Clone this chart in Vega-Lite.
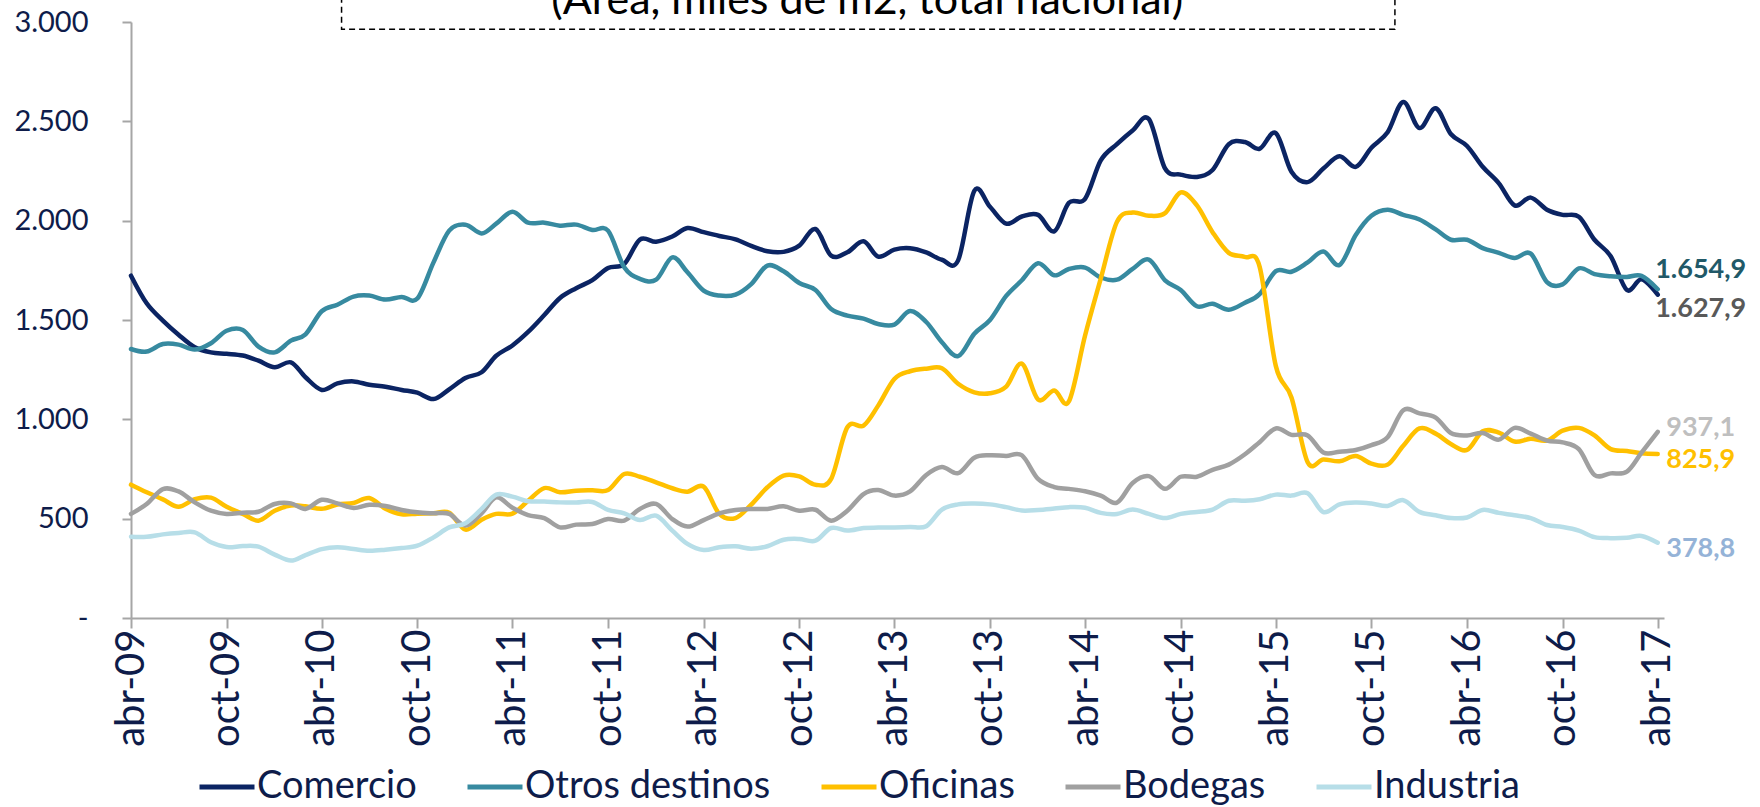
{
  "$schema": "https://vega.github.io/schema/vega-lite/v6.json",
  "autosize": {"type": "none"},
  "width": 1533,
  "height": 596,
  "padding": {"left": 131, "top": 22, "right": 96, "bottom": 189},
  "background": "white",
  "config": {"view": {"stroke": null}, "font": "Lato"},
  "datasets": {
    "serie": [
      {"fecha":"2009-04-01","Comercio":1723,"Otros destinos":1354,"Oficinas":671,"Bodegas":524,"Industria":409},
      {"fecha":"2009-05-01","Comercio":1584,"Otros destinos":1341,"Oficinas":633,"Bodegas":574,"Industria":409},
      {"fecha":"2009-06-01","Comercio":1497,"Otros destinos":1379,"Oficinas":597,"Bodegas":649,"Industria":421},
      {"fecha":"2009-07-01","Comercio":1426,"Otros destinos":1376,"Oficinas":560,"Bodegas":637,"Industria":428},
      {"fecha":"2009-08-01","Comercio":1363,"Otros destinos":1351,"Oficinas":598,"Bodegas":582,"Industria":431},
      {"fecha":"2009-09-01","Comercio":1337,"Otros destinos":1383,"Oficinas":606,"Bodegas":540,"Industria":381},
      {"fecha":"2009-10-01","Comercio":1330,"Otros destinos":1446,"Oficinas":560,"Bodegas":524,"Industria":357},
      {"fecha":"2009-11-01","Comercio":1321,"Otros destinos":1450,"Oficinas":524,"Bodegas":530,"Industria":362},
      {"fecha":"2009-12-01","Comercio":1295,"Otros destinos":1366,"Oficinas":490,"Bodegas":535,"Industria":359},
      {"fecha":"2010-01-01","Comercio":1262,"Otros destinos":1337,"Oficinas":540,"Bodegas":574,"Industria":319},
      {"fecha":"2010-02-01","Comercio":1287,"Otros destinos":1396,"Oficinas":566,"Bodegas":577,"Industria":289},
      {"fecha":"2010-03-01","Comercio":1212,"Otros destinos":1428,"Oficinas":562,"Bodegas":549,"Industria":317},
      {"fecha":"2010-04-01","Comercio":1148,"Otros destinos":1544,"Oficinas":550,"Bodegas":595,"Industria":347},
      {"fecha":"2010-05-01","Comercio":1181,"Otros destinos":1577,"Oficinas":571,"Bodegas":577,"Industria":356},
      {"fecha":"2010-06-01","Comercio":1191,"Otros destinos":1618,"Oficinas":579,"Bodegas":554,"Industria":347},
      {"fecha":"2010-07-01","Comercio":1174,"Otros destinos":1623,"Oficinas":604,"Bodegas":570,"Industria":339},
      {"fecha":"2010-08-01","Comercio":1164,"Otros destinos":1603,"Oficinas":550,"Bodegas":564,"Industria":344},
      {"fecha":"2010-09-01","Comercio":1148,"Otros destinos":1616,"Oficinas":522,"Bodegas":544,"Industria":352},
      {"fecha":"2010-10-01","Comercio":1134,"Otros destinos":1608,"Oficinas":525,"Bodegas":532,"Industria":364},
      {"fecha":"2010-11-01","Comercio":1102,"Otros destinos":1790,"Oficinas":527,"Bodegas":527,"Industria":406},
      {"fecha":"2010-12-01","Comercio":1151,"Otros destinos":1950,"Oficinas":530,"Bodegas":524,"Industria":456},
      {"fecha":"2011-01-01","Comercio":1208,"Otros destinos":1980,"Oficinas":445,"Bodegas":465,"Industria":477},
      {"fecha":"2011-02-01","Comercio":1237,"Otros destinos":1936,"Oficinas":495,"Bodegas":527,"Industria":549},
      {"fecha":"2011-03-01","Comercio":1320,"Otros destinos":1985,"Oficinas":524,"Bodegas":607,"Industria":621},
      {"fecha":"2011-04-01","Comercio":1372,"Otros destinos":2045,"Oficinas":525,"Bodegas":555,"Industria":611},
      {"fecha":"2011-05-01","Comercio":1440,"Otros destinos":1990,"Oficinas":590,"Bodegas":518,"Industria":588},
      {"fecha":"2011-06-01","Comercio":1525,"Otros destinos":1990,"Oficinas":654,"Bodegas":503,"Industria":586},
      {"fecha":"2011-07-01","Comercio":1611,"Otros destinos":1975,"Oficinas":633,"Bodegas":456,"Industria":582},
      {"fecha":"2011-08-01","Comercio":1660,"Otros destinos":1980,"Oficinas":641,"Bodegas":470,"Industria":581},
      {"fecha":"2011-09-01","Comercio":1701,"Otros destinos":1953,"Oficinas":643,"Bodegas":473,"Industria":584},
      {"fecha":"2011-10-01","Comercio":1762,"Otros destinos":1950,"Oficinas":644,"Bodegas":498,"Industria":544},
      {"fecha":"2011-11-01","Comercio":1782,"Otros destinos":1765,"Oficinas":725,"Bodegas":490,"Industria":527},
      {"fecha":"2011-12-01","Comercio":1905,"Otros destinos":1707,"Oficinas":711,"Bodegas":549,"Industria":493},
      {"fecha":"2012-01-01","Comercio":1894,"Otros destinos":1703,"Oficinas":683,"Bodegas":574,"Industria":515},
      {"fecha":"2012-02-01","Comercio":1920,"Otros destinos":1815,"Oficinas":653,"Bodegas":498,"Industria":440},
      {"fecha":"2012-03-01","Comercio":1963,"Otros destinos":1740,"Oficinas":636,"Bodegas":460,"Industria":373},
      {"fecha":"2012-04-01","Comercio":1942,"Otros destinos":1648,"Oficinas":661,"Bodegas":493,"Industria":342},
      {"fecha":"2012-05-01","Comercio":1923,"Otros destinos":1623,"Oficinas":524,"Bodegas":527,"Industria":356},
      {"fecha":"2012-06-01","Comercio":1906,"Otros destinos":1628,"Oficinas":503,"Bodegas":544,"Industria":361},
      {"fecha":"2012-07-01","Comercio":1873,"Otros destinos":1681,"Oficinas":571,"Bodegas":549,"Industria":349},
      {"fecha":"2012-08-01","Comercio":1846,"Otros destinos":1774,"Oficinas":658,"Bodegas":549,"Industria":361},
      {"fecha":"2012-09-01","Comercio":1843,"Otros destinos":1745,"Oficinas":717,"Bodegas":562,"Industria":394},
      {"fecha":"2012-10-01","Comercio":1874,"Otros destinos":1686,"Oficinas":713,"Bodegas":540,"Industria":398},
      {"fecha":"2012-11-01","Comercio":1958,"Otros destinos":1651,"Oficinas":671,"Bodegas":545,"Industria":389},
      {"fecha":"2012-12-01","Comercio":1824,"Otros destinos":1555,"Oficinas":700,"Bodegas":490,"Industria":453},
      {"fecha":"2013-01-01","Comercio":1841,"Otros destinos":1522,"Oficinas":960,"Bodegas":540,"Industria":440},
      {"fecha":"2013-02-01","Comercio":1896,"Otros destinos":1507,"Oficinas":968,"Bodegas":624,"Industria":453},
      {"fecha":"2013-03-01","Comercio":1819,"Otros destinos":1480,"Oficinas":1069,"Bodegas":644,"Industria":455},
      {"fecha":"2013-04-01","Comercio":1854,"Otros destinos":1477,"Oficinas":1203,"Bodegas":616,"Industria":456},
      {"fecha":"2013-05-01","Comercio":1861,"Otros destinos":1545,"Oficinas":1242,"Bodegas":637,"Industria":458},
      {"fecha":"2013-06-01","Comercio":1840,"Otros destinos":1490,"Oficinas":1255,"Bodegas":720,"Industria":462},
      {"fecha":"2013-07-01","Comercio":1803,"Otros destinos":1388,"Oficinas":1257,"Bodegas":760,"Industria":546},
      {"fecha":"2013-08-01","Comercio":1800,"Otros destinos":1318,"Oficinas":1179,"Bodegas":729,"Industria":572},
      {"fecha":"2013-09-01","Comercio":2150,"Otros destinos":1431,"Oficinas":1136,"Bodegas":807,"Industria":576},
      {"fecha":"2013-10-01","Comercio":2070,"Otros destinos":1500,"Oficinas":1131,"Bodegas":819,"Industria":572},
      {"fecha":"2013-11-01","Comercio":1985,"Otros destinos":1621,"Oficinas":1165,"Bodegas":816,"Industria":558},
      {"fecha":"2013-12-01","Comercio":2021,"Otros destinos":1700,"Oficinas":1280,"Bodegas":819,"Industria":541},
      {"fecha":"2014-01-01","Comercio":2029,"Otros destinos":1786,"Oficinas":1100,"Bodegas":700,"Industria":544},
      {"fecha":"2014-02-01","Comercio":1946,"Otros destinos":1725,"Oficinas":1145,"Bodegas":659,"Industria":551},
      {"fecha":"2014-03-01","Comercio":2090,"Otros destinos":1757,"Oficinas":1090,"Bodegas":650,"Industria":558},
      {"fecha":"2014-04-01","Comercio":2110,"Otros destinos":1764,"Oficinas":1422,"Bodegas":638,"Industria":555},
      {"fecha":"2014-05-01","Comercio":2303,"Otros destinos":1714,"Oficinas":1708,"Bodegas":616,"Industria":529},
      {"fecha":"2014-06-01","Comercio":2385,"Otros destinos":1703,"Oficinas":1994,"Bodegas":581,"Industria":524},
      {"fecha":"2014-07-01","Comercio":2454,"Otros destinos":1757,"Oficinas":2041,"Bodegas":680,"Industria":546},
      {"fecha":"2014-08-01","Comercio":2512,"Otros destinos":1804,"Oficinas":2025,"Bodegas":714,"Industria":524},
      {"fecha":"2014-09-01","Comercio":2263,"Otros destinos":1700,"Oficinas":2038,"Bodegas":650,"Industria":503},
      {"fecha":"2014-10-01","Comercio":2232,"Otros destinos":1651,"Oficinas":2142,"Bodegas":711,"Industria":524},
      {"fecha":"2014-11-01","Comercio":2220,"Otros destinos":1569,"Oficinas":2077,"Bodegas":711,"Industria":534},
      {"fecha":"2014-12-01","Comercio":2255,"Otros destinos":1582,"Oficinas":1942,"Bodegas":746,"Industria":546},
      {"fecha":"2015-01-01","Comercio":2385,"Otros destinos":1552,"Oficinas":1838,"Bodegas":772,"Industria":590},
      {"fecha":"2015-02-01","Comercio":2396,"Otros destinos":1587,"Oficinas":1817,"Bodegas":824,"Industria":590},
      {"fecha":"2015-03-01","Comercio":2362,"Otros destinos":1630,"Oficinas":1769,"Bodegas":885,"Industria":598},
      {"fecha":"2015-04-01","Comercio":2441,"Otros destinos":1746,"Oficinas":1269,"Bodegas":954,"Industria":621},
      {"fecha":"2015-05-01","Comercio":2246,"Otros destinos":1743,"Oficinas":1110,"Bodegas":922,"Industria":616},
      {"fecha":"2015-06-01","Comercio":2194,"Otros destinos":1790,"Oficinas":784,"Bodegas":919,"Industria":628},
      {"fecha":"2015-07-01","Comercio":2262,"Otros destinos":1845,"Oficinas":798,"Bodegas":833,"Industria":533},
      {"fecha":"2015-08-01","Comercio":2324,"Otros destinos":1777,"Oficinas":789,"Bodegas":837,"Industria":572},
      {"fecha":"2015-09-01","Comercio":2271,"Otros destinos":1928,"Oficinas":815,"Bodegas":846,"Industria":581},
      {"fecha":"2015-10-01","Comercio":2367,"Otros destinos":2025,"Oficinas":777,"Bodegas":870,"Industria":576},
      {"fecha":"2015-11-01","Comercio":2445,"Otros destinos":2055,"Oficinas":772,"Bodegas":910,"Industria":564},
      {"fecha":"2015-12-01","Comercio":2597,"Otros destinos":2029,"Oficinas":867,"Bodegas":1046,"Industria":593},
      {"fecha":"2016-01-01","Comercio":2466,"Otros destinos":2006,"Oficinas":954,"Bodegas":1030,"Industria":534},
      {"fecha":"2016-02-01","Comercio":2566,"Otros destinos":1956,"Oficinas":928,"Bodegas":1009,"Industria":517},
      {"fecha":"2016-03-01","Comercio":2436,"Otros destinos":1904,"Oficinas":876,"Bodegas":931,"Industria":503},
      {"fecha":"2016-04-01","Comercio":2376,"Otros destinos":1904,"Oficinas":846,"Bodegas":919,"Industria":506},
      {"fecha":"2016-05-01","Comercio":2271,"Otros destinos":1862,"Oficinas":940,"Bodegas":931,"Industria":544},
      {"fecha":"2016-06-01","Comercio":2188,"Otros destinos":1838,"Oficinas":933,"Bodegas":898,"Industria":529},
      {"fecha":"2016-07-01","Comercio":2077,"Otros destinos":1812,"Oficinas":888,"Bodegas":957,"Industria":517},
      {"fecha":"2016-08-01","Comercio":2116,"Otros destinos":1834,"Oficinas":902,"Bodegas":928,"Industria":503},
      {"fecha":"2016-09-01","Comercio":2055,"Otros destinos":1691,"Oficinas":893,"Bodegas":893,"Industria":468},
      {"fecha":"2016-10-01","Comercio":2029,"Otros destinos":1679,"Oficinas":943,"Bodegas":884,"Industria":458},
      {"fecha":"2016-11-01","Comercio":2020,"Otros destinos":1760,"Oficinas":957,"Bodegas":850,"Industria":440},
      {"fecha":"2016-12-01","Comercio":1904,"Otros destinos":1731,"Oficinas":919,"Bodegas":720,"Industria":407},
      {"fecha":"2017-01-01","Comercio":1821,"Otros destinos":1720,"Oficinas":850,"Bodegas":728,"Industria":402},
      {"fecha":"2017-02-01","Comercio":1651,"Otros destinos":1717,"Oficinas":841,"Bodegas":737,"Industria":404},
      {"fecha":"2017-03-01","Comercio":1705,"Otros destinos":1722,"Oficinas":829,"Bodegas":832,"Industria":413},
      {"fecha":"2017-04-01","Comercio":1627.9,"Otros destinos":1654.9,"Oficinas":825.9,"Bodegas":937.1,"Industria":378.8}
    ],
    "etiquetas": [
      {"serie":"Otros destinos","fecha":"2017-04-01","valor":1654.9,"texto":"1.654,9"},
      {"serie":"Comercio","fecha":"2017-04-01","valor":1627.9,"texto":"1.627,9"},
      {"serie":"Bodegas","fecha":"2017-04-01","valor":937.1,"texto":"937,1"},
      {"serie":"Oficinas","fecha":"2017-04-01","valor":825.9,"texto":"825,9"},
      {"serie":"Industria","fecha":"2017-04-01","valor":378.8,"texto":"378,8"}
    ]
  },
  "layer": [
    {
      "data": {"values": [{}]},
      "mark": {"type": "rect", "fill": "white", "fillOpacity": 0, "stroke": "#000000", "strokeWidth": 1.5, "strokeDash": [6, 4]},
      "encoding": {
        "x": {"datum": {"year": 2010, "month": 5, "date": 9, "utc": true}, "type": "temporal"},
        "x2": {"datum": {"year": 2015, "month": 11, "date": 15, "utc": true}},
        "y": {"datum": 2963, "type": "quantitative"},
        "y2": {"datum": 3400}
      }
    },
    {
      "data": {"values": [{}]},
      "mark": {"type": "text", "font": "Lato", "fontSize": 43, "color": "#000000", "align": "center", "baseline": "alphabetic"},
      "encoding": {
        "x": {"datum": {"year": 2013, "month": 2, "date": 8, "utc": true}, "type": "temporal"},
        "y": {"datum": 3038, "type": "quantitative"},
        "text": {"value": "(Área, miles de m2, total nacional)"}
      }
    },
    {
      "data": {"name": "serie"},
      "transform": [{"fold": ["Comercio", "Otros destinos", "Oficinas", "Bodegas", "Industria"], "as": ["serie", "valor"]}],
      "mark": {"type": "line", "strokeWidth": 4.5, "interpolate": "cardinal", "tension": 0, "strokeCap": "round", "strokeJoin": "round"},
      "encoding": {
        "x": {
          "field": "fecha", "type": "temporal",
          "scale": {"type": "utc", "domain": [{"year": 2009, "month": 4, "date": 1, "utc": true}, {"year": 2017, "month": 4, "date": 13, "utc": true}]},
          "axis": {
            "title": null, "grid": false,
            "values": [
              {"year": 2009, "month": 4, "date": 1, "utc": true}, {"year": 2009, "month": 10, "date": 1, "utc": true},
              {"year": 2010, "month": 4, "date": 1, "utc": true}, {"year": 2010, "month": 10, "date": 1, "utc": true},
              {"year": 2011, "month": 4, "date": 1, "utc": true}, {"year": 2011, "month": 10, "date": 1, "utc": true},
              {"year": 2012, "month": 4, "date": 1, "utc": true}, {"year": 2012, "month": 10, "date": 1, "utc": true},
              {"year": 2013, "month": 4, "date": 1, "utc": true}, {"year": 2013, "month": 10, "date": 1, "utc": true},
              {"year": 2014, "month": 4, "date": 1, "utc": true}, {"year": 2014, "month": 10, "date": 1, "utc": true},
              {"year": 2015, "month": 4, "date": 1, "utc": true}, {"year": 2015, "month": 10, "date": 1, "utc": true},
              {"year": 2016, "month": 4, "date": 1, "utc": true}, {"year": 2016, "month": 10, "date": 1, "utc": true},
              {"year": 2017, "month": 4, "date": 1, "utc": true}
            ],
            "labelExpr": "(utcmonth(datum.value) == 3 ? 'abr' : 'oct') + '-' + utcFormat(datum.value, '%y')",
            "labelAngle": -90, "labelFont": "Lato", "labelFontSize": 40, "labelColor": "#0E1C4A", "labelPadding": 1,
            "labelOverlap": false, "labelBound": false, "labelFlush": false,
            "domainColor": "#A6A6A6", "domainWidth": 2, "tickColor": "#A6A6A6", "tickWidth": 2, "tickSize": 10
          }
        },
        "y": {
          "field": "valor", "type": "quantitative",
          "scale": {"domain": [0, 3000], "nice": false, "zero": true},
          "axis": {
            "title": null, "grid": false,
            "values": [0, 500, 1000, 1500, 2000, 2500, 3000],
            "labelExpr": "datum.value == 0 ? '-\u00a0\u00a0\u00a0\u00a0' : replace(format(datum.value, ','), ',', '.')",
            "labelFont": "Lato", "labelFontSize": 29, "labelColor": "#0E1C4A", "labelPadding": 34,
            "domainColor": "#A6A6A6", "domainWidth": 2, "tickColor": "#A6A6A6", "tickWidth": 2, "tickSize": 9
          }
        },
        "color": {
          "field": "serie", "type": "nominal",
          "scale": {
            "domain": ["Comercio", "Otros destinos", "Oficinas", "Bodegas", "Industria"],
            "range": ["#0B2463", "#378AA0", "#FFC000", "#A0A0A0", "#B7DEE8"]
          },
          "legend": {
            "title": null, "orient": "none", "legendX": 66, "legendY": 735,
            "direction": "horizontal", "columns": 5, "gridAlign": "none",
            "symbolType": "stroke", "symbolStrokeWidth": 5, "symbolSize": 3025,
            "labelFont": "Lato", "labelFontSize": 38, "labelColor": "#0E1C4A",
            "labelOffset": 0, "columnPadding": 40, "labelLimit": 0, "padding": 0
          }
        },
        "order": {"field": "fecha", "type": "temporal"}
      }
    },
    {
      "data": {"name": "etiquetas"},
      "transform": [{"filter": "datum.serie == 'Otros destinos'"}],
      "mark": {"type": "text", "font": "Lato", "fontWeight": "bold", "fontSize": 27, "align": "center", "baseline": "middle", "dx": 43, "dy": -19, "color": "#215968"},
      "encoding": {"x": {"field": "fecha", "type": "temporal"}, "y": {"field": "valor", "type": "quantitative"}, "text": {"field": "texto"}}
    },
    {
      "data": {"name": "etiquetas"},
      "transform": [{"filter": "datum.serie == 'Comercio'"}],
      "mark": {"type": "text", "font": "Lato", "fontWeight": "bold", "fontSize": 27, "align": "center", "baseline": "middle", "dx": 43, "dy": 14, "color": "#595959"},
      "encoding": {"x": {"field": "fecha", "type": "temporal"}, "y": {"field": "valor", "type": "quantitative"}, "text": {"field": "texto"}}
    },
    {
      "data": {"name": "etiquetas"},
      "transform": [{"filter": "datum.serie == 'Bodegas'"}],
      "mark": {"type": "text", "font": "Lato", "fontWeight": "bold", "fontSize": 27, "align": "center", "baseline": "middle", "dx": 43, "dy": -4, "color": "#BFBFBF"},
      "encoding": {"x": {"field": "fecha", "type": "temporal"}, "y": {"field": "valor", "type": "quantitative"}, "text": {"field": "texto"}}
    },
    {
      "data": {"name": "etiquetas"},
      "transform": [{"filter": "datum.serie == 'Oficinas'"}],
      "mark": {"type": "text", "font": "Lato", "fontWeight": "bold", "fontSize": 27, "align": "center", "baseline": "middle", "dx": 43, "dy": 6, "color": "#FFC000"},
      "encoding": {"x": {"field": "fecha", "type": "temporal"}, "y": {"field": "valor", "type": "quantitative"}, "text": {"field": "texto"}}
    },
    {
      "data": {"name": "etiquetas"},
      "transform": [{"filter": "datum.serie == 'Industria'"}],
      "mark": {"type": "text", "font": "Lato", "fontWeight": "bold", "fontSize": 27, "align": "center", "baseline": "middle", "dx": 43, "dy": 6, "color": "#95B3D7"},
      "encoding": {"x": {"field": "fecha", "type": "temporal"}, "y": {"field": "valor", "type": "quantitative"}, "text": {"field": "texto"}}
    }
  ]
}
